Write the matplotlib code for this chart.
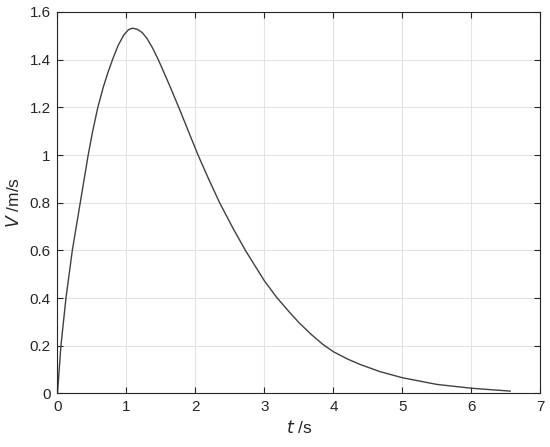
import matplotlib.pyplot as plt

# values
t = [0, 0.05, 0.123, 0.215, 0.33, 0.445, 0.51, 0.585, 0.664, 0.73,
     0.8, 0.88, 0.96, 1.03, 1.09, 1.16, 1.23, 1.3, 1.38, 1.461,
     1.54, 1.62, 1.765, 1.9, 2.04, 2.19, 2.35, 2.54, 2.73, 3.0,
     3.18, 3.35, 3.5, 3.68, 3.85, 4.0, 4.2, 4.384, 4.67, 5.0,
     5.5, 6.0, 6.56]
v = [0, 0.2, 0.4, 0.6, 0.8, 1.0, 1.1, 1.2, 1.285, 1.345,
     1.402, 1.46, 1.503, 1.526, 1.532, 1.527, 1.513, 1.488, 1.448, 1.4,
     1.348, 1.295, 1.195, 1.098, 0.998, 0.9, 0.8, 0.695, 0.597, 0.472,
     0.402, 0.345, 0.297, 0.247, 0.205, 0.175, 0.145, 0.122, 0.092, 0.066,
     0.038, 0.022, 0.010]

xticks = [0, 1, 2, 3, 4, 5, 6, 7]
yticks = [0, 0.2, 0.4, 0.6, 0.8, 1, 1.2, 1.4, 1.6]
yticklabels = ["0", "0.2", "0.4", "0.6", "0.8", "1", "1.2", "1.4", "1.6"]

plt.rcParams["font.family"] = ["Liberation Sans", "DejaVu Sans"]

fig = plt.figure(figsize=(5.5, 4.47), dpi=100)
ax = fig.add_axes([0.1045, 0.1197, 0.8782, 0.8535])

ax.plot(t, v, color="#404040", linewidth=1.0, solid_joinstyle="round")

ax.set_xlim(0, 7)
ax.set_ylim(0, 1.6)
ax.set_xticks(xticks)
ax.set_yticks(yticks)
ax.set_yticklabels(yticklabels)
ax.grid(True, color="#e3e3e3", linewidth=0.8)
ax.set_axisbelow(True)

ax.tick_params(direction="in", length=4, width=0.8, top=True, right=True,
               labelsize=11, colors="#262626", pad=5)
for s in ax.spines.values():
    s.set_color("#262626")
    s.set_linewidth(0.8)

ax.set_xlabel(r"$\it{t}$ /s", fontsize=12.5, color="#262626", labelpad=3)
ax.set_ylabel(r"$\it{V}$ /m/s", fontsize=12.5, color="#262626", labelpad=5)

fig.savefig("out.png", dpi=100)
